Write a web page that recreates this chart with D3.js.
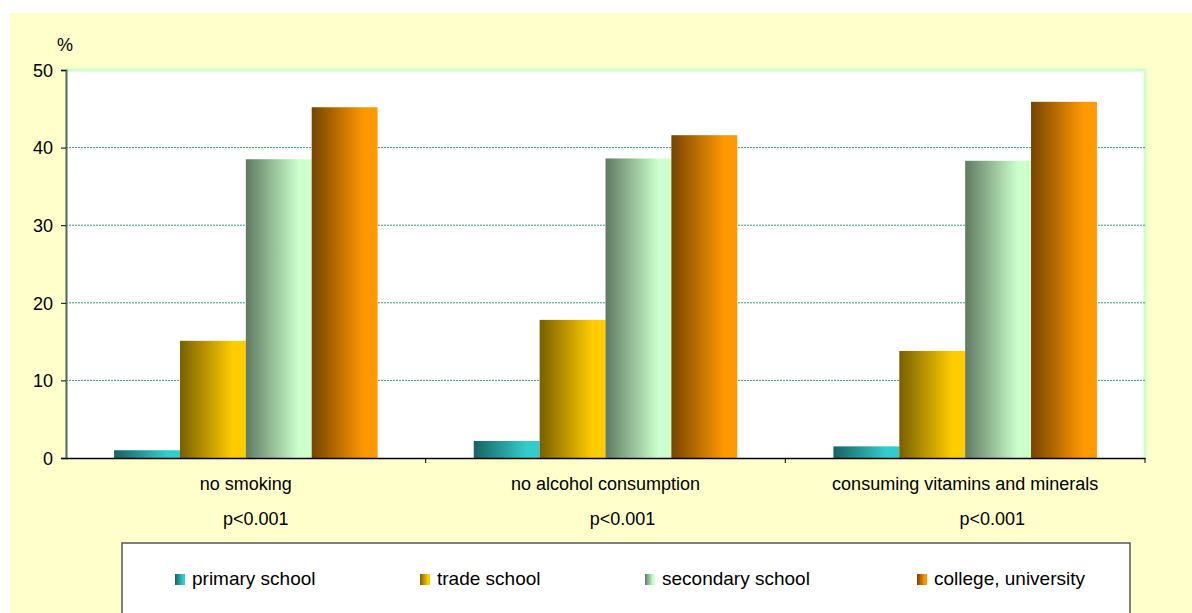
<!DOCTYPE html>
<html lang="en">
<head>
<meta charset="UTF-8">
<title>Health behaviours by education</title>
<script src="https://d3js.org/d3.v7.min.js"></script>
<style>
    body { margin: 0; padding: 0; background: #fff; overflow: hidden; }
    svg { display: block; font-family: "Liberation Sans", Arial, sans-serif; }
    .tick text { font-size: 18px; fill: #000; }
</style>
</head>
<body>
<svg id="chart" width="1192" height="613"></svg>
<script>
// data
const categories = ["no smoking", "no alcohol consumption", "consuming vitamins and minerals"];
const pLabels = ["p<0.001", "p<0.001", "p<0.001"];
const seriesNames = ["primary school", "trade school", "secondary school", "college, university"];
const primarySchool = [1.0, 2.2, 1.5];
const tradeSchool = [15.1, 17.8, 13.8];
const secondarySchool = [38.5, 38.6, 38.3];
const collegeUniversity = [45.2, 41.6, 45.9];
const yTicks = [0, 10, 20, 30, 40, 50];
// dark -> light colours of each series' gradient
const seriesColors = [
    ["#176262", "#33cccc"],
    ["#776000", "#ffcc00"],
    ["#5f7a62", "#ccffcc"],
    ["#764400", "#ff9900"]
];

const seriesValues = [primarySchool, tradeSchool, secondarySchool, collegeUniversity];

const W = 1192, H = 613;
const margin = { top: 70, right: 47, bottom: 155, left: 66 };
const width = W - margin.left - margin.right,
      height = H - margin.top - margin.bottom;

const svg = d3.select("#chart");

// chart background
svg.append("rect").attr("x", 10).attr("y", 13).attr("width", W - 10).attr("height", H - 13)
    .attr("fill", "#ffffcc");

const defs = svg.append("defs");
seriesColors.forEach((c, i) => {
    const g = defs.append("linearGradient").attr("id", "grad" + i)
        .attr("x1", "0%").attr("x2", "100%").attr("y1", "0%").attr("y2", "0%");
    g.append("stop").attr("offset", "0%").attr("stop-color", c[0]);
    g.append("stop").attr("offset", "80%").attr("stop-color", c[1]);
    g.append("stop").attr("offset", "100%").attr("stop-color", c[1]);
});

const g = svg.append("g").attr("transform", `translate(${margin.left},${margin.top})`);

// plot area
g.append("rect").attr("width", width).attr("height", height).attr("fill", "#fff");
// light green frame top / right
g.append("path")
    .attr("d", `M0,0 H${width} V${height}`)
    .attr("fill", "none").attr("stroke", "#ccffcc").attr("stroke-width", 3);

const x0 = d3.scaleBand().domain(categories).range([0, width]).paddingInner(0).paddingOuter(0);
const x1 = d3.scaleBand().domain(d3.range(seriesNames.length))
    .range([0, x0.bandwidth()]).paddingInner(0).paddingOuter(0.73);
const y = d3.scaleLinear().domain([0, 50]).range([height, 0]);

// gridlines
g.append("g").selectAll("line")
    .data(yTicks.filter(t => t > 0 && t < 50))
    .enter().append("line")
    .attr("x1", 0).attr("x2", width)
    .attr("y1", d => y(d)).attr("y2", d => y(d))
    .attr("stroke", "#2fa070").attr("stroke-width", 1)
    .attr("stroke-dasharray", "2,1");

// bars
const groups = g.selectAll(".grp").data(categories).enter().append("g")
    .attr("transform", d => `translate(${x0(d)},0)`);
seriesValues.forEach((vals, s) => {
    groups.append("rect")
        .attr("x", x1(s))
        .attr("width", x1.bandwidth())
        .attr("y", (d, i) => y(vals[i]))
        .attr("height", (d, i) => y(0) - y(vals[i]))
        .attr("fill", `url(#grad${s})`);
});

// y axis
const yAxis = g.append("g")
    .call(d3.axisLeft(y).tickValues(yTicks).tickSize(5).tickPadding(8));
yAxis.select(".domain").attr("stroke", "#4f6a56").attr("stroke-width", 2);
yAxis.selectAll(".tick line").attr("stroke", "#000");
yAxis.selectAll(".tick text").attr("dy", "0.35em");

// x axis
const xAxis = g.append("g").attr("transform", `translate(0,${height})`)
    .call(d3.axisBottom(x0).tickSize(0).tickPadding(19));
xAxis.select(".domain").attr("stroke", "#000").attr("stroke-width", 1.5);
// boundary ticks between categories
xAxis.selectAll(".bnd").data(categories).enter().append("line")
    .attr("x1", d => x0(d) + x0.bandwidth()).attr("x2", d => x0(d) + x0.bandwidth())
    .attr("y1", 0).attr("y2", 5).attr("stroke", "#000");

// p-values (sit a little right of the category centre, as in the original)
const pShift = [10, 17, 27];
g.selectAll(".pval").data(categories).enter().append("text")
    .attr("x", (d, i) => x0(d) + x0.bandwidth() / 2 + pShift[i])
    .attr("y", height + 67)
    .attr("text-anchor", "middle").attr("font-size", 18)
    .text((d, i) => pLabels[i]);

// % unit label
svg.append("text").attr("x", 57).attr("y", 51).attr("font-size", 18).text("%");

// legend
const legend = svg.append("g");
legend.append("rect").attr("x", 122).attr("y", 543).attr("width", 1008).attr("height", 80)
    .attr("fill", "#fff").attr("stroke", "#555").attr("stroke-width", 1.5);
const legendX = [175, 420, 645, 917];
seriesNames.forEach((name, i) => {
    legend.append("rect").attr("x", legendX[i]).attr("y", 574).attr("width", 10).attr("height", 11)
        .attr("fill", `url(#grad${i})`);
    legend.append("text").attr("x", legendX[i] + 17).attr("y", 585)
        .attr("font-size", 19).text(name);
});
</script>
</body>
</html>
